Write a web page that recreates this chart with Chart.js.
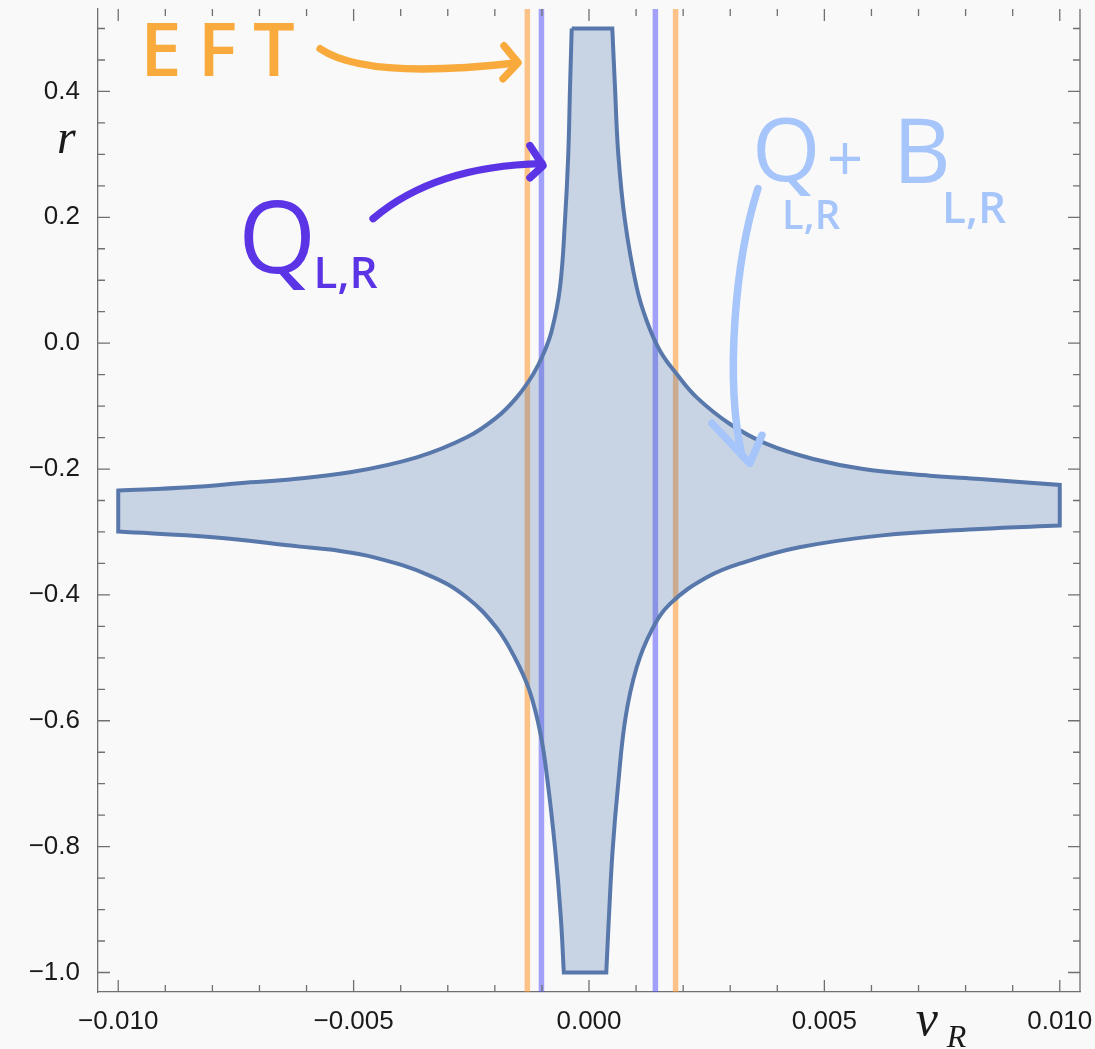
<!DOCTYPE html>
<html>
<head>
<meta charset="utf-8">
<script src="https://cdn.jsdelivr.net/npm/chart.js@4.4.1/dist/chart.umd.min.js"></script>
<style>
  html, body { margin: 0; padding: 0; background: #f9f9f9; }
  canvas { display: block; }
</style>
</head>
<body>
<canvas id="chart" width="1095" height="1049"></canvas>
<script>
// allowed region, clockwise from the top-left corner of the upper cap
const regionV = [
  -0.000367, 0.000495,
  0.000552, 0.000622, 0.000764, 0.001013, 0.001225, 0.001507, 0.001862, 0.002287,
  0.002994, 0.003773, 0.004762, 0.005824, 0.00724, 0.0083, 0.01,
  0.01, 0.0083, 0.00618, 0.004469, 0.003291, 0.002505, 0.00172, 0.001327, 0.001013,
  0.000777, 0.00062, 0.000501, 0.000423, 0.000367,
  -0.000535, -0.000599, -0.000716, -0.000873, -0.00103, -0.001265, -0.00158, -0.001972,
  -0.002601, -0.003386, -0.004565, -0.005499, -0.006136, -0.007983, -0.01,
  -0.01, -0.008493, -0.007197, -0.00649, -0.005074, -0.003658, -0.002597, -0.00196,
  -0.001535, -0.001183, -0.00097, -0.000792, -0.000616, -0.00051, -0.00044, -0.000403,
  -0.000367
];
const regionR = [
  0.5, 0.5,
  0.4064, 0.3006, 0.1946, 0.0886, 0.0357, -0.0119, -0.0489, -0.0861,
  -0.1284, -0.1601, -0.184, -0.1998, -0.2105, -0.216, -0.2253,
  -0.2899, -0.2952, -0.3058, -0.3244, -0.3482, -0.372, -0.4143, -0.4567, -0.515,
  -0.5944, -0.7003, -0.8062, -0.9121, -1.0,
  -1.0, -0.9121, -0.8062, -0.7003, -0.6208, -0.552, -0.4991, -0.4515,
  -0.4038, -0.3693, -0.3403, -0.328, -0.3233, -0.3085, -0.2994,
  -0.2343, -0.2291, -0.2211, -0.2173, -0.2052, -0.1814, -0.1496, -0.1179,
  -0.0861, -0.0489, -0.0172, 0.0199, 0.0886, 0.1946, 0.3006, 0.4064,
  0.5
];
// indices of the sharp corners (caps and cut-off ends)
const regionCorners = [1, 16, 17, 30, 31, 45, 46];

// vertical bounds on v_R
const eftBounds = [-0.00131, 0.00184];
const qBounds = [-0.00101, 0.00141];

const xRange = [-0.01043, 0.01043];
const yRange = [-1.031, 0.531];

const xTickValues = [-0.01, -0.005, 0, 0.005, 0.01];
const xTickLabels = ['−0.010', '−0.005', '0.000', '0.005', '0.010'];
const yTickValues = [0.4, 0.2, 0, -0.2, -0.4, -0.6, -0.8, -1.0];
const yTickLabels = ['0.4', '0.2', '0.0', '−0.2', '−0.4', '−0.6', '−0.8', '−1.0'];

const axisColor = '#707070';
const labelColor = '#1a1a1a';

// a corner point is given twice so the spline keeps it sharp
const region = [];
regionV.forEach((v, i) => {
  region.push({ x: v, y: regionR[i] });
  if (regionCorners.includes(i)) region.push({ x: v, y: regionR[i] });
});
const vline = v => [{ x: v, y: yRange[0] }, { x: v, y: yRange[1] }];

function minorTicks(from, to, step) {
  const out = [];
  for (let k = Math.round(from / step); k <= Math.round(to / step); k++) out.push({ value: k * step });
  return out;
}
function labelFor(values, labels) {
  return v => {
    const i = values.findIndex(t => Math.abs(t - v) < 1e-9);
    return i < 0 ? '' : labels[i];
  };
}

// inward ticks on all four sides, plus the right frame line
const frameTicks = {
  id: 'frameTicks',
  afterDraw(chart) {
    const { ctx, chartArea: a, scales: { x, y } } = chart;
    ctx.save();
    ctx.strokeStyle = axisColor;
    ctx.lineWidth = 1.3;
    ctx.beginPath();
    ctx.moveTo(a.right, a.top);
    ctx.lineTo(a.right, a.bottom);
    x.ticks.forEach(t => {
      const p = x.getPixelForValue(t.value);
      const len = t.label ? 12 : 7;
      ctx.moveTo(p, a.bottom); ctx.lineTo(p, a.bottom - len);
      ctx.moveTo(p, a.top); ctx.lineTo(p, a.top + len);
    });
    y.ticks.forEach(t => {
      const p = y.getPixelForValue(t.value);
      const len = t.label ? 12 : 7;
      ctx.moveTo(a.left, p); ctx.lineTo(a.left + len, p);
      ctx.moveTo(a.right, p); ctx.lineTo(a.right - len, p);
    });
    ctx.stroke();
    ctx.restore();
  }
};

// axis symbols and the hand-written notes
const notes = {
  id: 'notes',
  afterDraw(chart) {
    const { ctx, scales: { x, y } } = chart;
    const P = (v, r) => [x.getPixelForValue(v), y.getPixelForValue(r)];
    ctx.save();
    ctx.textBaseline = 'alphabetic';
    ctx.textAlign = 'left';

    function text(str, v, r, font, color, spacing) {
      const [px, py] = P(v, r);
      ctx.font = font;
      ctx.fillStyle = color;
      ctx.letterSpacing = spacing || '0px';
      ctx.fillText(str, px, py);
      ctx.letterSpacing = '0px';
    }
    function arrow(color, pts, head) {
      ctx.strokeStyle = color;
      ctx.lineWidth = 7.5;
      ctx.lineCap = 'round';
      ctx.lineJoin = 'round';
      const q = pts.map(p => P(p[0], p[1]));
      ctx.beginPath();
      ctx.moveTo(q[0][0], q[0][1]);
      ctx.bezierCurveTo(q[1][0], q[1][1], q[2][0], q[2][1], q[3][0], q[3][1]);
      ctx.stroke();
      const h = head.map(p => P(p[0], p[1]));
      ctx.beginPath();
      ctx.moveTo(h[0][0], h[0][1]);
      ctx.lineTo(h[1][0], h[1][1]);
      ctx.lineTo(h[2][0], h[2][1]);
      ctx.stroke();
    }

    // axis symbols
    text('r', -0.0113, 0.3026, 'italic 48px "Liberation Serif"', labelColor);
    text('v', 0.00694, -1.1, 'italic 50px "Liberation Serif"', labelColor);
    text('R', 0.0076, -1.1188, 'italic 32px "Liberation Serif"', labelColor);

    // EFT
    const orange = '#f8aa3c';
    text('EFT', -0.00953, 0.425, '600 74px "Open Sans"', orange, '16px');
    arrow(orange,
      [[-0.005711, 0.4678], [-0.004968, 0.4297], [-0.003376, 0.4297], [-0.001529, 0.4456]],
      [[-0.001805, 0.4725], [-0.001507, 0.4456], [-0.001826, 0.4202]]);

    // Q_{L,R}
    const purple = '#5b34e6';
    text('Q', -0.00745, 0.112, '500 100px "Open Sans"', purple);
    text('L,R', -0.00585, 0.087, '600 44px "Open Sans"', purple);
    arrow(purple,
      [[-0.004586, 0.1979], [-0.004013, 0.2344], [-0.002951, 0.2821], [-0.000998, 0.2853]],
      [[-0.001253, 0.3138], [-0.000977, 0.2821], [-0.001253, 0.263]]);

    // Q_{L,R} + B_{L,R}
    const light = '#a6c5fb';
    text('Q', 0.00346, 0.2583, '500 88px "Open Sans"', light);
    text('L,R', 0.0041, 0.182, '600 40px "Open Sans"', light);
    text('+', 0.00505, 0.258, '500 64px "Open Sans"', light);
    text('B', 0.006454, 0.2551, '500 90px "Open Sans"', light);
    text('L,R', 0.0075, 0.1916, '600 44px "Open Sans"', light);
    arrow(light,
      [[0.003588, 0.2456], [0.0031, 0.1313], [0.002887, -0.0598], [0.003248, -0.1788]],
      [[0.002611, -0.1274], [0.003418, -0.1909], [0.003673, -0.1464]]);

    ctx.restore();
  }
};

const lineStyle = { showLine: true, pointRadius: 0, tension: 0, fill: false };

new Chart(document.getElementById('chart'), {
  type: 'scatter',
  data: {
    datasets: [
      {
        ...lineStyle,
        label: 'Q + B',
        data: region,
        tension: 0.4,
        fill: 'shape',
        backgroundColor: 'rgba(70,110,170,0.27)',
        borderColor: '#5878ab',
        borderWidth: 4
      },
      { ...lineStyle, label: 'Q lower', data: vline(qBounds[0]), borderColor: 'rgba(90,90,255,0.55)', borderWidth: 5.5 },
      { ...lineStyle, label: 'Q upper', data: vline(qBounds[1]), borderColor: 'rgba(90,90,255,0.55)', borderWidth: 5.5 },
      { ...lineStyle, label: 'EFT lower', data: vline(eftBounds[0]), borderColor: 'rgba(255,150,40,0.55)', borderWidth: 5.5 },
      { ...lineStyle, label: 'EFT upper', data: vline(eftBounds[1]), borderColor: 'rgba(255,150,40,0.55)', borderWidth: 5.5 }
    ]
  },
  options: {
    responsive: false,
    animation: false,
    events: [],
    layout: { padding: { top: 9, right: 15, left: 0, bottom: 0 } },
    plugins: { legend: { display: false }, tooltip: { enabled: false } },
    scales: {
      x: {
        type: 'linear',
        min: xRange[0],
        max: xRange[1],
        grid: { display: false },
        border: { display: true, color: axisColor, width: 1.3 },
        afterBuildTicks: s => { s.ticks = minorTicks(-0.01, 0.01, 0.001); },
        afterFit: s => { s.height = 57; s.paddingLeft = 0; s.paddingRight = 0; },
        ticks: {
          autoSkip: false,
          maxRotation: 0,
          padding: 6,
          color: labelColor,
          font: { family: 'Liberation Sans', size: 26 },
          callback: labelFor(xTickValues, xTickLabels)
        }
      },
      y: {
        type: 'linear',
        min: yRange[0],
        max: yRange[1],
        grid: { display: false },
        border: { display: true, color: axisColor, width: 1.3 },
        afterBuildTicks: s => { s.ticks = minorTicks(-1.0, 0.5, 0.05); },
        afterFit: s => { s.width = 98; s.paddingTop = 0; s.paddingBottom = 0; },
        ticks: {
          autoSkip: false,
          padding: 10,
          color: labelColor,
          font: { family: 'Liberation Sans', size: 26 },
          callback: labelFor(yTickValues, yTickLabels)
        }
      }
    }
  },
  plugins: [frameTicks, notes]
});
</script>
</body>
</html>
